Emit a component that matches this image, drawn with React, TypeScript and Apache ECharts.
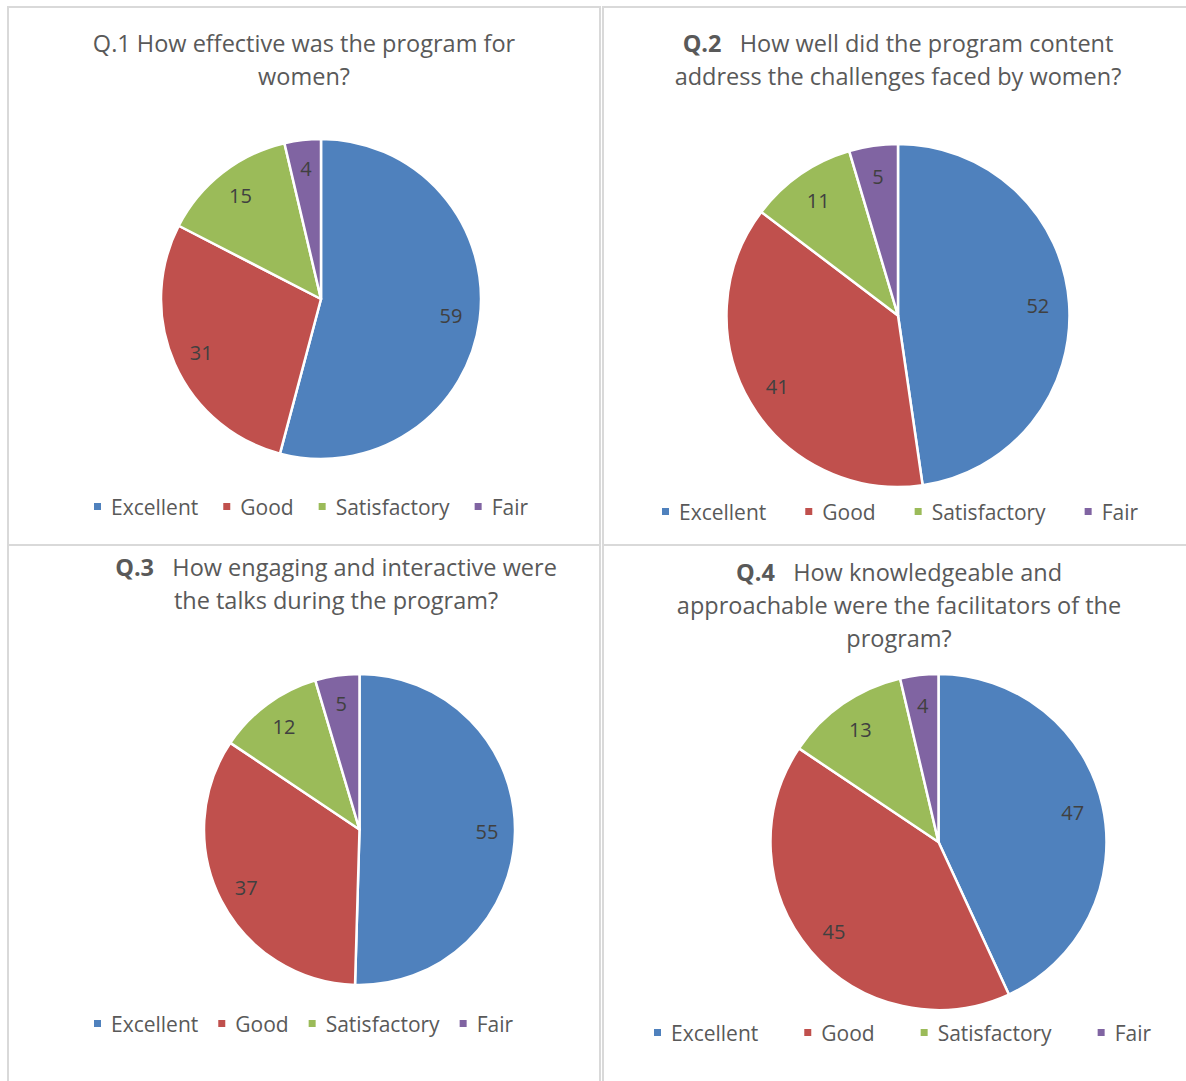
import React, { useEffect, useRef } from "react";
import * as echarts from "echarts";

const categories = ["Excellent", "Good", "Satisfactory", "Fair"];
const colors = ["#4F81BD", "#C0504D", "#9BBB59", "#8064A2"];

const q1Values = [59, 31, 15, 4];
const q2Values = [52, 41, 11, 5];
const q3Values = [55, 37, 12, 5];
const q4Values = [47, 45, 13, 4];

const q1Title = "Q.1 How effective was the program for\nwomen?";
const q2Title = "{b|Q.2}   How well did the program content\naddress the challenges faced by women?";
const q3Title = "{b|Q.3}   How engaging and interactive were\nthe talks during the program?";
const q4Title = "{b|Q.4}   How knowledgeable and\napproachable were the facilitators of the\nprogram?";

const FONT = "'Open Sans', sans-serif";
const GREY = "#595959";
const TITLE_SIZE = 23.5;

const panels = [
  { box: [8, 7, 592, 538], cx: 321, cy: 299, r: 160, values: q1Values, title: q1Title, tx: 304, ty: 26, lx: 92, ly: 496, gap: 23 },
  { box: [603, 7, 600, 538], cx: 898, cy: 315.5, r: 171.5, values: q2Values, title: q2Title, tx: 898, ty: 26, lx: 660, ly: 501, gap: 37 },
  { box: [8, 545, 592, 560], cx: 359.5, cy: 829.5, r: 155.5, values: q3Values, title: q3Title, tx: 336, ty: 550, lx: 92, ly: 1013, gap: 18 },
  { box: [603, 545, 600, 560], cx: 938.5, cy: 842, r: 168, values: q4Values, title: q4Title, tx: 899, ty: 555, lx: 652, ly: 1022, gap: 44 },
];

export default function App() {
  const ref = useRef<HTMLDivElement>(null);
  useEffect(() => {
    if (!ref.current) return;
    const chart = echarts.init(ref.current, null, { renderer: "svg" });
    const mainSeries = panels.map((p) => ({
      type: "pie",
      center: [p.cx, p.cy],
      radius: p.r,
      startAngle: 90,
      clockwise: true,
      avoidLabelOverlap: false,
      label: { show: false },
      labelLine: { show: false },
      itemStyle: { borderColor: "#ffffff", borderWidth: 2.5 },
      emphasis: { disabled: true },
      data: categories.map((c, i) => ({ name: c, value: p.values[i], itemStyle: { color: colors[i] } })),
    }));
    const labelSeries = panels.map((p) => ({
      type: "pie",
      center: [p.cx, p.cy],
      radius: [p.r * 0.6, p.r],
      startAngle: 90,
      clockwise: true,
      silent: true,
      avoidLabelOverlap: false,
      label: {
        show: true,
        position: "inside",
        formatter: "{c}",
        color: "#404040",
        fontSize: 20,
        fontFamily: FONT,
      },
      labelLine: { show: false },
      itemStyle: { color: "rgba(0,0,0,0)", borderWidth: 0 },
      emphasis: { disabled: true },
      data: categories.map((c, i) => ({ name: c, value: p.values[i] })),
    }));
    const graphics: any[] = [];
    panels.forEach((p) => {
      graphics.push({
        type: "rect",
        shape: { x: p.box[0], y: p.box[1], width: p.box[2], height: p.box[3] },
        style: { fill: "none", stroke: "#d9d9d9", lineWidth: 2 },
        silent: true,
      });
      graphics.push({
        type: "text",
        x: p.tx,
        y: p.ty,
        style: {
          text: p.title,
          align: "center",
          verticalAlign: "top",
          fill: GREY,
          fontSize: TITLE_SIZE,
          fontFamily: FONT,
          lineHeight: 33,
          rich: {
            b: { fontWeight: "bold", fill: GREY, fontSize: TITLE_SIZE, fontFamily: FONT, lineHeight: 33 },
          },
        },
        silent: true,
      });
    });
    chart.setOption({
      animation: false,
      backgroundColor: "#ffffff",
      legend: panels.map((p) => ({
        left: p.lx,
        top: p.ly,
        padding: 0,
        orient: "horizontal",
        icon: "rect",
        itemWidth: 9,
        itemHeight: 9,
        itemGap: p.gap,
        data: categories,
        selectedMode: false,
        textStyle: { color: GREY, fontSize: 21, fontFamily: FONT, padding: [0, 0, 0, 4] },
      })),
      graphic: graphics,
      series: [...mainSeries, ...labelSeries],
    });
    return () => chart.dispose();
  }, []);
  return (
    <div
      ref={ref}
      style={{ position: "fixed", left: 0, top: 0, width: 1186, height: 1081, background: "#fff" }}
    />
  );
}
